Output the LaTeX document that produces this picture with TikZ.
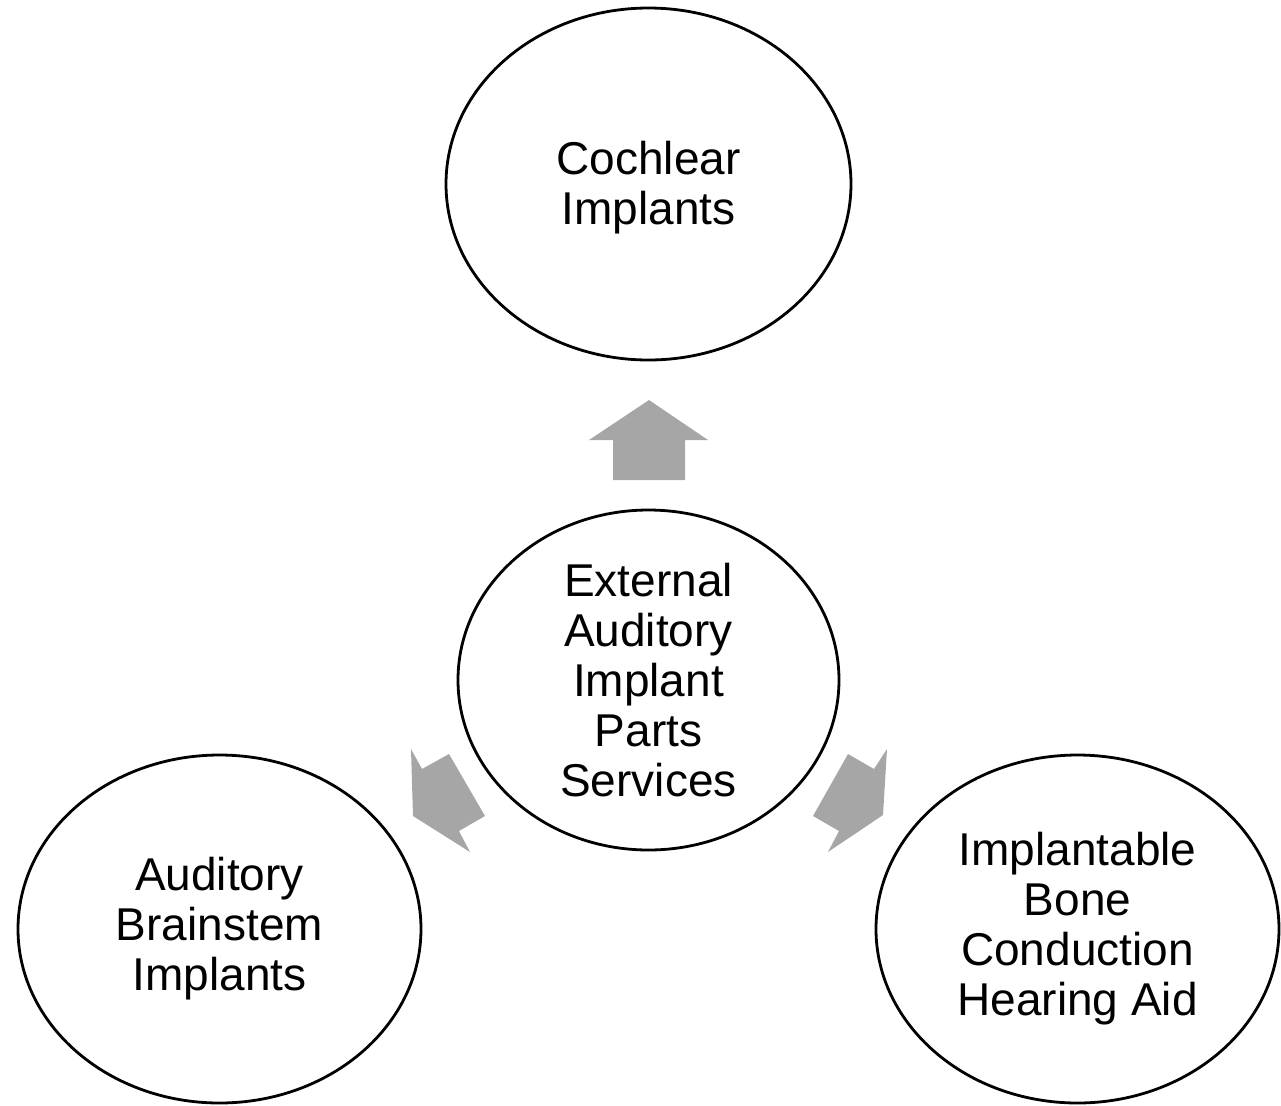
\documentclass[tikz,border=0pt]{standalone}
\usepackage{fontspec}
\setmainfont{Liberation Sans}
\usetikzlibrary{shapes.geometric}
\begin{document}
\begin{tikzpicture}[x=0.5pt,y=-0.5pt,
  oval/.style={draw=black, line width=1.4pt, ellipse, inner sep=0pt},
  lbl/.style={align=center, font=\fontsize{23}{25}\selectfont, inner sep=0pt},
  blockarrow/.style={fill=black!35, draw=none}]
\useasboundingbox (0,0) rectangle (1281,1105);
% circles
\node[oval, minimum width=202.5pt, minimum height=176pt] (top) at (648.5,184) {};
\node[oval, minimum width=190.5pt, minimum height=170pt] (hub) at (648.5,680) {};
\node[oval, minimum width=201.5pt, minimum height=174pt] (left) at (219.5,929) {};
\node[oval, minimum width=201.5pt, minimum height=174pt] (right) at (1077.5,929) {};
% labels
\node[lbl, yshift=-2pt] (toplbl) at (top.center) {Cochlear\\Implants};
\node[lbl] (hublbl) at (hub.center) {External\\Auditory\\Implant\\Parts\\Services};
\node[lbl] (leftlbl) at (left.center) {Auditory\\Brainstem\\Implants};
\node[lbl] (rightlbl) at (right.center) {Implantable\\Bone\\Conduction\\Hearing Aid};
% block arrows from the hub
\fill[blockarrow] (649,400) -- (708,440) -- (685,440) -- (685,480) -- (613,480) -- (613,440) -- (589,440) -- cycle;
\fill[blockarrow] (413,816) -- (411,749) -- (422,769) -- (449,754) -- (485,816) -- (459,831) -- (470,852) -- cycle;
\fill[blockarrow] (883,815) -- (828,852) -- (839,831) -- (813,816) -- (848,754) -- (874,769) -- (887,749) -- cycle;
\end{tikzpicture}
\end{document}
